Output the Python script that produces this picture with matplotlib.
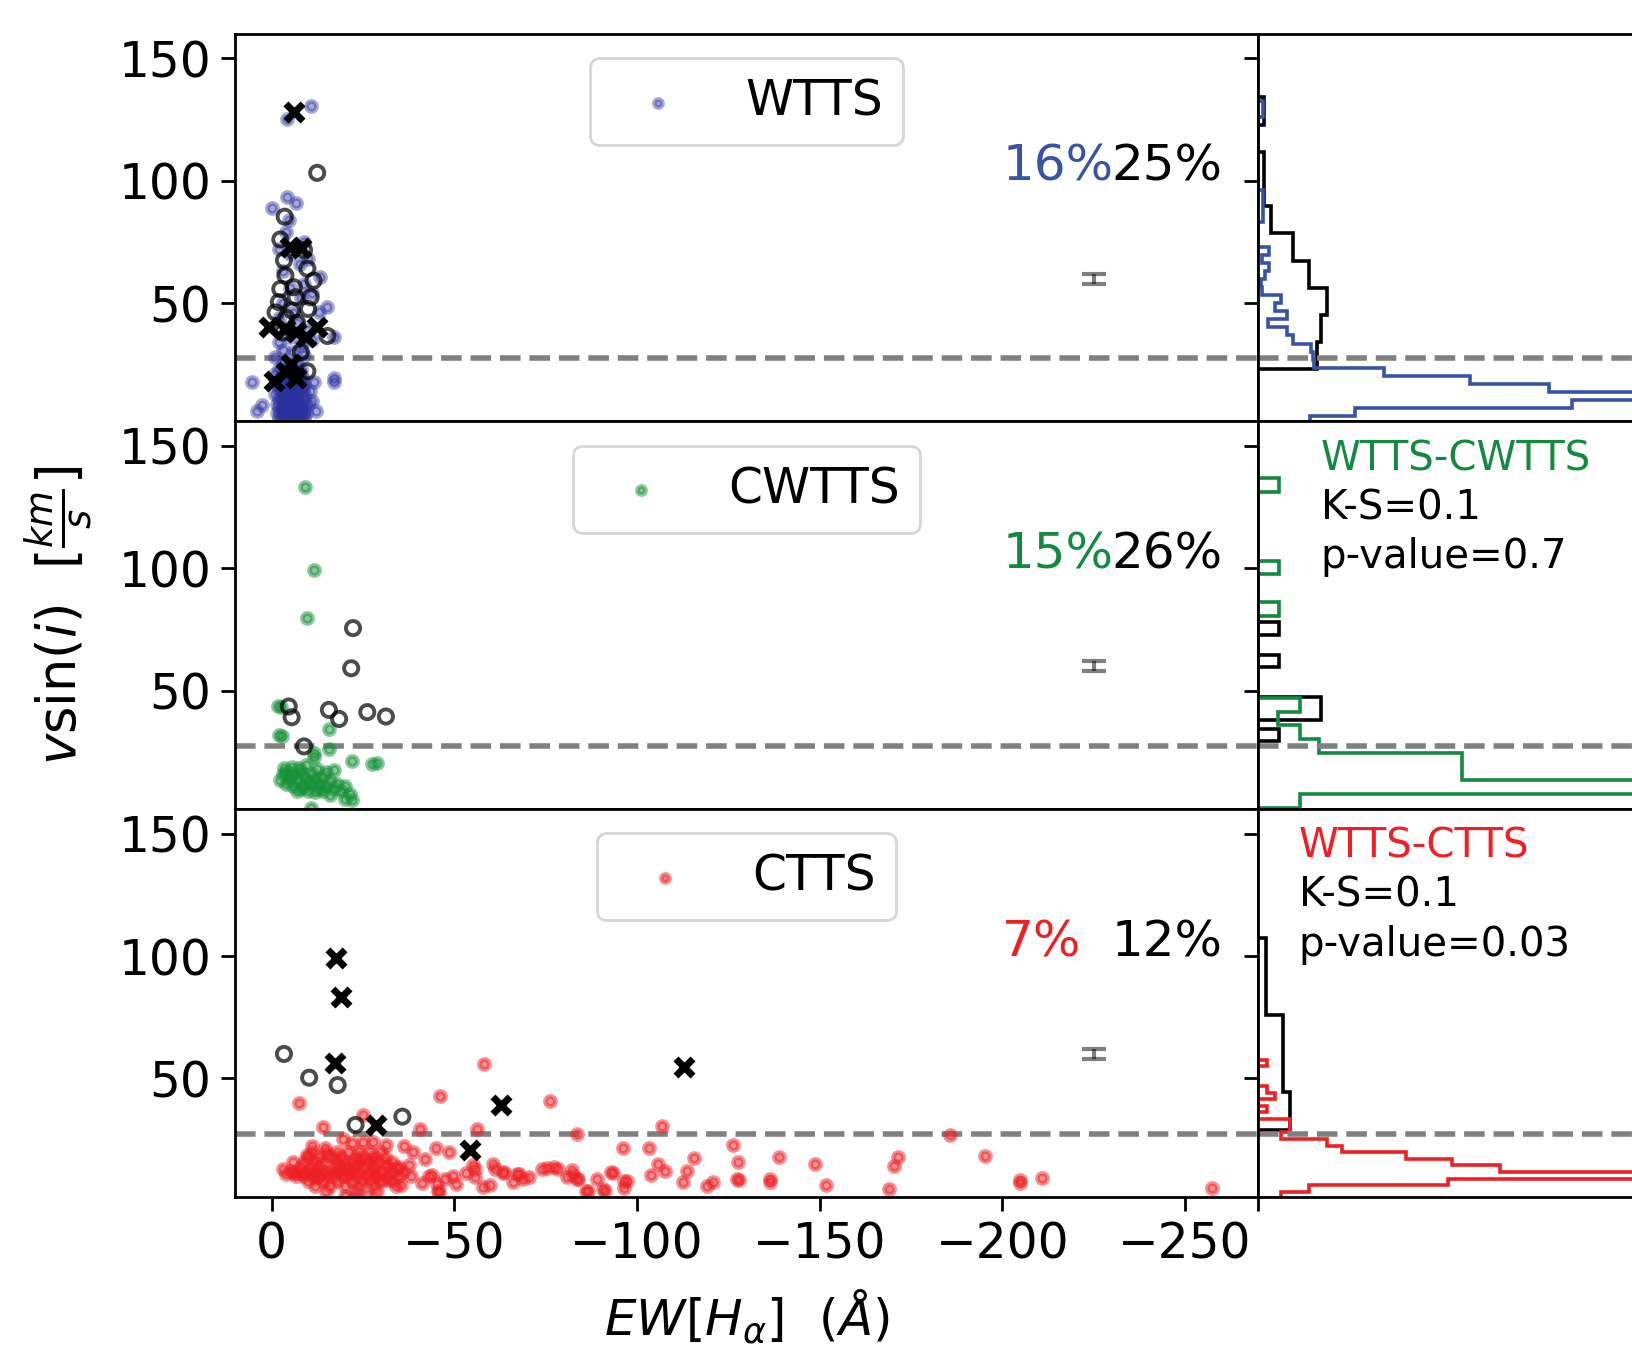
import matplotlib.pyplot as plt
import numpy as np

# ---------------- data ----------------
# EW[Halpha] (A), vsin(i) (km/s)
wtts_pts = np.array([
    [-2, 3], [-3, 3], [-4, 3], [-5, 3], [-6, 3], [-7, 3], [-8, 3], [-9, 3],
    [-1.5, 5], [-2.5, 5], [-3.5, 5], [-4.5, 5], [-5.5, 5], [-6.5, 5], [-7.5, 5], [-8.5, 5], [-9.5, 5],
    [-2, 7], [-3, 7], [-4, 7], [-5, 7], [-6, 7], [-7, 7], [-8, 7], [-9, 7],
    [-1.5, 9], [-3, 9], [-4, 9], [-5, 9], [-6, 9], [-7, 9], [-8, 9], [-10, 9],
    [-2, 11], [-3, 11], [-4, 11], [-5, 11], [-6, 11], [-7, 11], [-9, 11],
    [-1, 13], [-2.5, 13], [-4, 13], [-5, 13], [-6, 13], [-7.5, 13], [-9, 13],
    [-2, 15], [-3.5, 15], [-5, 15], [-6, 15], [-7, 15], [-8.5, 15],
    [-1.5, 17], [-3, 17], [-4.5, 17], [-6, 17], [-7.5, 17], [-9, 17],
    [-2, 19], [-4, 19], [-5.5, 19], [-7, 19], [-8.5, 19],
    [-1, 21], [-3, 21], [-5, 21], [-6.5, 21], [-8, 21],
    [-2, 23], [-4, 23], [-6, 23], [-8, 23],
    [-3, 25], [-5, 25], [-7, 25],
    [5.3, 18], [2.6, 8.6], [-12.1, 6], [-11.6, 18], [-17, 18], [-17.2, 19.6],
    [4, 6], [-11, 10], [-10.5, 14],
    [-1, 28], [-3, 31], [-6, 30], [-9, 29], [-2, 34], [-5, 36], [-8, 33], [-11, 35],
    [-4, 40], [-7, 42], [-10, 39], [-2, 44], [-6, 46], [-13, 46.2], [-15.3, 48.4],
    [-3, 50], [-8, 52], [-11, 54], [-5, 56], [-9, 58], [-13.4, 60.7], [-3, 63],
    [-7.9, 66], [-10, 68], [-5, 70], [-2, 72], [-9, 75], [-4, 79], [-0.2, 88.8],
    [-4.3, 93.5], [-6.6, 90.8], [-4.7, 84], [-4.3, 125], [-10.7, 130.5], [-17, 36],
])
wtts_circ = np.array([
    [-12.5, 103.2], [-3.6, 85.3], [-2.4, 76], [-8.9, 71.7], [-3.4, 67.5], [-9.8, 64.1],
    [-3.8, 61.3], [-11.5, 59.2], [-6.1, 56.5], [-2.4, 55.8], [-10.7, 52.4], [-6.6, 52.4],
    [-2, 50.4], [-10, 47.6], [-5.6, 47], [-1.1, 46.2], [-15.3, 36.6], [-9.8, 22.2],
    [-4, 44], [-7, 42], [-3, 38], [-8, 30],
])
wtts_x = np.array([
    [-6.1, 128], [-5, 73], [-8, 72.5], [0.7, 40.1], [-3.8, 39.5], [-6.6, 38.2],
    [-9.3, 36.2], [-12.5, 40.1], [-5.2, 25.1], [-0.6, 18.2], [-6.6, 19.5], [-4, 22],
])

cwtts_pts = np.array([
    [-9.1, 133.2], [-11.6, 99.2], [-9.8, 79.7], [-1.8, 43.6], [-2.6, 43.3],
    [-2, 31.8], [-2.8, 31.6], [-15.7, 34.5], [-11.6, 24.4], [-11.6, 22.8],
    [-15.7, 26.4], [-21.9, 21.3], [-27.6, 20.2], [-29, 20.5], [-17.1, 17.5],
    [-3, 16], [-4, 17], [-5, 15], [-6, 16.5], [-7, 14], [-8, 17], [-9, 15],
    [-10, 13], [-11, 16], [-12, 14], [-13, 12], [-14, 15], [-15, 11], [-16, 13],
    [-17, 10], [-18, 12], [-19, 9], [-20, 11], [-4, 12], [-6, 11], [-8, 10],
    [-10, 9], [-12, 8.5], [-14, 9], [-16, 7.5], [-5, 13.5], [-7, 9], [-9, 11],
    [-11, 12], [-13, 10], [-21.5, 8], [-22, 5.4], [-2.4, 13.4], [-3.5, 18.5],
    [-5.5, 19], [-7.5, 18.5], [-9.5, 19.5], [-12.5, 18], [-15, 17], [-20, 6],
    [-10.7, 2],
])
cwtts_circ = np.array([
    [-22.3, 75.6], [-21.8, 59.2], [-4.7, 43.6], [-5.5, 39.2], [-15.7, 42.2],
    [-18.5, 38.5], [-26.2, 41.3], [-31.3, 39.5], [-8.9, 27.3],
])

ctts_pts = np.array([
    [-7.6, 40.0], [-58.1, 55.9], [-46, 42.9], [-76.2, 40.7], [-25, 35], [-14.2, 30.2],
    [-40.7, 29.3], [-56.3, 29.3], [-83.6, 27.3], [-106.8, 30.7], [-185.6, 27.0],
    [-96.1, 21.6], [-103.4, 21.6], [-126.4, 23.0], [-115.6, 17.5], [-105.8, 15.2],
    [-107.8, 12.1], [-113.6, 12.1], [-127.8, 15.9], [-127.5, 9.0], [-127.9, 8.4],
    [-138.9, 18.1], [-136.4, 8.9], [-136.4, 7.6], [-148.8, 14.9], [-151.8, 6.6],
    [-171.6, 18.1], [-170.4, 14.4], [-169, 5.0], [-195.4, 18.3], [-204.8, 8.5],
    [-204.8, 7.3], [-210.9, 9.4], [-257.3, 5.3], [-120.9, 7.6], [-119.1, 6.2],
    [-112.5, 7.6], [-104, 10.5], [-97.2, 8.2], [-96.6, 5.1], [-93.6, 11.5],
    [-91.3, 4.2], [-86.6, 4.0], [-83.5, 8.9], [-82.5, 10.5], [-78.3, 12.9],
    [-75.5, 13.5], [-68.9, 8.9], [-67.2, 11], [-63.4, 11.5], [-59.7, 6.3],
    [-55.1, 14.5], [-53.1, 11.5], [-49.8, 10.2], [-47.6, 8.9], [-45.4, 7.0],
    [-43.2, 10.2], [-45.8, 3.8], [-37.5, 14.5], [-35.5, 6.3], [-48.5, 20.1],
    [-45.1, 21.5], [-38.7, 20.1], [-42.1, 17.3], [-60.7, 15.2], [-61.2, 13.2],
    [-63.7, 11.8], [-57.8, 5.6], [-55.8, 13.2], [-55.8, 9.8], [-50.5, 7.0],
    [-45.6, 4.2], [-66.1, 7.7], [-70.5, 9.8], [-67.6, 11.1], [-74, 13.2],
    [-77.4, 13.9], [-80.8, 9.8], [-82.3, 12.5], [-83.8, 9.0], [-89.2, 9.0],
    [-93, 11.8], [-96.5, 8.3], [-86.2, 4.2], [-90.6, 4.9], [-22.6, 1.4],
    [-3, 13], [-4, 11], [-5.4, 12.1], [-5.9, 11.5], [-6.7, 10.2], [-8.3, 11.4],
    [-9.8, 18.9], [-11, 22.4], [-12.2, 9.4], [-14.5, 21.7], [-15.7, 18.3],
    [-19.6, 25.1], [-19.6, 10], [-22, 23.7], [-24, 16.2], [-25, 24.1], [-25, 8],
    [-27.4, 16.9], [-27.9, 24.1], [-28.4, 11.4], [-31.4, 23], [-31.4, 14.9],
    [-31.4, 8.6], [-34.3, 13.5], [-36.2, 22.4], [-38.2, 10], [-41.1, 7.3], [-44, 10.7],
    [-10, 8], [-14, 8], [-18, 8], [-22, 8], [-27, 8], [-30, 8], [-33, 8],
    [-9, 10], [-11, 10], [-13, 10], [-15, 10], [-17, 10], [-21, 10], [-23, 10],
    [-26, 10], [-29, 10], [-32, 10], [-35, 10],
    [-7, 12], [-10, 12], [-12, 12], [-14, 12], [-16, 12], [-18, 12], [-20, 12],
    [-22, 12], [-24, 12], [-27, 12], [-30, 12], [-33, 12], [-36, 12],
    [-8, 14], [-11, 14], [-13, 14], [-17, 14], [-19, 14], [-21, 14], [-23, 14],
    [-25, 14], [-28, 14], [-32, 14], [-35, 14],
    [-6, 16], [-9, 16], [-12, 16], [-14, 16], [-18, 16], [-20, 16], [-22, 16],
    [-26, 16], [-29, 16], [-33, 16],
    [-10, 18], [-13, 18], [-17, 18], [-19, 18], [-23, 18], [-25, 18], [-28, 18], [-31, 18],
    [-11, 20], [-15, 20], [-18, 20], [-21, 20], [-24, 20], [-27, 20], [-30, 20],
    [-12, 6], [-16, 6], [-20, 6], [-24, 6], [-28, 6], [-34, 6],
    [-15, 4], [-23, 4], [-29, 4], [-20, 2], [-26, 2.5],
])
ctts_circ = np.array([
    [-3.4, 60.0], [-10.3, 50.3], [-18.1, 47.3], [-23, 31], [-35.8, 34.4],
])
ctts_x = np.array([
    [-17.6, 99.0], [-19.1, 83.1], [-17.4, 56.2], [-113, 54.6], [-62.7, 39.3],
    [-28.7, 31.0], [-54.4, 20.7],
])

# histograms (bar lengths, bin edges in km/s)
wtts_hist_edges = np.linspace(0.5, 132.5, 41)
wtts_hist = [7.8, 14.6, 47.2, 70, 43.8, 31.8, 18.9, 8.4, 8.2, 7.9,
             5.2, 4.3, 1.5, 4.4, 2.5, 3.5, 0.65, 0.45, 1.1, 1.7,
             0.6, 1.7, 0, 0, 0, 0.7, 0.7, 0.7, 0.7, 0,
             0, 0, 0, 0, 0, 0, 0, 0, 0.7, 0.7]
wtts_blk_edges = np.linspace(23, 134, 11)
wtts_blk = [8.8, 9.4, 10.4, 7.7, 5.2, 1.95, 0.95, 0.95, 0, 0.95]

cwtts_hist_edges = np.linspace(2.3, 136.7, 25)
cwtts_hist = [6.35, 70, 30.7, 30.7, 9.2, 6.35, 3.05, 6.35, 0, 0, 0, 0,
              0, 0, 3.2, 0, 0, 3.2, 0, 0, 0, 0, 0, 3.2]
cwtts_blk_edges = [29.7, 34.5, 37.9, 47.5, 59.9, 64.7, 72.9, 78.3]
cwtts_blk = [3.2, 0, 9.4, 0, 3.2, 0, 3.2]

ctts_hist_edges = np.linspace(1.0, 57.7, 22)
ctts_hist = [3.45, 7.65, 28.6, 75, 36.3, 29.2, 22.2, 12.7, 10.4, 3.45, 4.85,
             4.85, 0, 1.35, 0, 2.55, 1.35, 0, 0, 0, 1.35]
ctts_blk_edges = np.linspace(28.8, 107.5, 11)
ctts_blk = [4.85, 4.85, 3.7, 3.7, 3.7, 3.7, 1.2, 1.2, 1.2, 1.2]

labels = ['WTTS', 'CWTTS', 'CTTS']
frac_col = ['16%', '15%', '7%']
frac_blk = ['25%', '26%', '12%']
ks_names = [None, 'WTTS-CWTTS', 'WTTS-CTTS']
ks_vals = [None, 'K-S=0.1', 'K-S=0.1']
p_vals = [None, 'p-value=0.7', 'p-value=0.03']
vsini_cut = 27.5

# ---------------- styling ----------------
scat_col = ['#2a30a0', '#179138', '#ee2024']
scat_alpha = [0.42, 0.5, 0.5]
line_col = ['#3953a4', '#138a3f', '#ee2024']

plt.rcParams['font.size'] = 17
plt.rcParams['axes.linewidth'] = 1.0

fig = plt.figure(figsize=(8.16, 6.73), dpi=200)

h = 0.288
bottoms = [0.6869, 0.3989, 0.1109]
xl, wl = 0.1440, 0.6268
xh, wh = 0.7708, 0.24

panels = [
    (wtts_pts, wtts_circ, wtts_x, wtts_hist_edges, wtts_hist, wtts_blk_edges, wtts_blk),
    (cwtts_pts, cwtts_circ, None, cwtts_hist_edges, cwtts_hist, cwtts_blk_edges, cwtts_blk),
    (ctts_pts, ctts_circ, ctts_x, ctts_hist_edges, ctts_hist, ctts_blk_edges, ctts_blk),
]

for i, (pts, circ, xs, he, hv, be, bv) in enumerate(panels):
    ax = fig.add_axes([xl, bottoms[i], wl, h])
    axh = fig.add_axes([xh, bottoms[i], wh, h])

    ax.scatter(pts[:, 0], pts[:, 1], s=13, color=scat_col[i], alpha=scat_alpha[i],
               linewidths=1.7, label=labels[i], zorder=2)
    ax.scatter(circ[:, 0], circ[:, 1], s=26, facecolors='none', edgecolors='k',
               alpha=0.7, linewidths=1.4, zorder=3)
    if xs is not None:
        ax.scatter(xs[:, 0], xs[:, 1], s=38, marker='x', color='k',
                   linewidths=2.5, zorder=4)
    ax.axhline(vsini_cut, color='gray', ls='--', lw=2, zorder=1)
    ax.errorbar(-225, 60, yerr=2, fmt='none', ecolor='k', alpha=0.5,
                capsize=4.2, elinewidth=1.5, capthick=1.5)
    ax.text(-200, 100, frac_col[i], color=line_col[i], fontsize=18)
    ax.text(-230, 100, frac_blk[i], color='k', fontsize=18)

    ax.set_xlim(10, -270)
    ax.set_ylim(1.7, 160)
    ax.set_yticks([50, 100, 150])
    ax.tick_params(length=5, width=1, labelsize=17.5)
    if i < 2:
        ax.tick_params(axis='x', bottom=False, labelbottom=False)
    else:
        ax.set_xticks([0, -50, -100, -150, -200, -250])
        ax.set_xlabel(r'$EW[H_{\alpha}]\ \ (Å)$', fontsize=18, labelpad=7)
    if i == 1:
        ax.set_ylabel(r'$v\sin(i)\ \ [\frac{km}{s}]$', fontsize=19, labelpad=9)

    leg = ax.legend(loc='upper center', fontsize=17.5, framealpha=0.8,
                    markerscale=0.8)
    leg.get_frame().set_linewidth(1.0)

    # side histograms
    axh.stairs(bv, be, orientation='horizontal', color='k', lw=1.3)
    axh.stairs(hv, he, orientation='horizontal', color=line_col[i], lw=1.3)
    axh.axhline(vsini_cut, color='gray', ls='--', lw=2)
    axh.set_ylim(1.7, 160)
    axh.set_xlim(0, 56.2 * wh / 0.2292)
    axh.set_yticks([50, 100, 150])
    axh.tick_params(length=5, width=1, labelleft=False)
    axh.spines['right'].set_visible(False)
    if i < 2:
        axh.tick_params(axis='x', bottom=False, labelbottom=False)
    else:
        axh.set_xticks([0])
        axh.tick_params(axis='x', labelbottom=False)
    if ks_names[i] is not None:
        xt = 9.4 if i == 1 else 6.1
        axh.text(xt, 144.6, ks_names[i], color=line_col[i], fontsize=14.5, va='center')
        axh.text(xt, 124.6, ks_vals[i], color='k', fontsize=14.5, va='center')
        axh.text(xt, 104.6, p_vals[i], color='k', fontsize=14.5, va='center')

fig.savefig('out.png', dpi=200)
